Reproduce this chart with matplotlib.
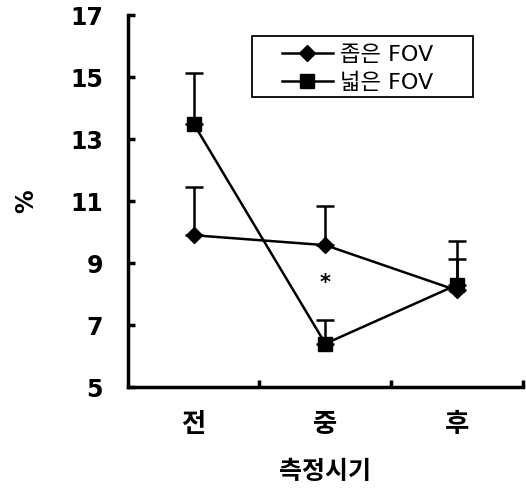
import matplotlib
matplotlib.use("Agg")
import matplotlib.pyplot as plt
from matplotlib.patches import Rectangle

categories = ["전", "중", "후"]
narrow = [9.9, 9.58, 8.12]
narrow_err = [1.55, 1.27, 1.02]
wide = [13.5, 6.4, 8.3]
wide_err = [1.63, 0.77, 1.43]
yticks = [5, 7, 9, 11, 13, 15, 17]

fam = ["DejaVu Sans", "Noto Sans CJK KR"]
plt.rcParams['font.family'] = fam

fig = plt.figure(figsize=(5.26, 4.9), dpi=100)
ax = fig.add_axes([0.243, 0.210, 0.751, 0.759])
x = list(range(len(categories)))

ax.errorbar(x, narrow, yerr=[[0]*3, narrow_err], fmt='none', ecolor='black',
            capsize=6.5, capthick=1.8, elinewidth=1.8)
ax.errorbar(x, wide, yerr=[[0]*3, wide_err], fmt='none', ecolor='black',
            capsize=6.5, capthick=1.8, elinewidth=1.8)
ax.plot(x, narrow, color='black', lw=1.8, marker='D', markersize=8, label='좁은 FOV')
ax.plot(x, wide, color='black', lw=1.8, marker='s', markersize=10.5, label='넓은 FOV')
ax.text(1, 8.35, '*', ha='center', va='center', fontsize=15, fontweight='bold')

ax.set_xlim(-0.5, 2.5)
ax.set_ylim(5, 17)
ax.set_yticks(yticks)
ax.set_xticks([0.5, 1.5, 2.5])
ax.set_xticklabels([])
ax.set_xticks(x, minor=True)
ax.set_xticklabels(categories, minor=True, fontsize=19, fontweight='bold')
ax.tick_params(axis='x', which='minor', length=0, pad=18)
ax.tick_params(axis='x', which='major', direction='in', length=5, width=2.5)
ax.tick_params(axis='y', direction='in', length=5, width=2.5, labelsize=17, pad=18)
for lab in ax.get_yticklabels():
    lab.set_fontweight('bold')
for s in ['top', 'right']:
    ax.spines[s].set_visible(False)
for s in ['left', 'bottom']:
    ax.spines[s].set_linewidth(2.5)

ax.set_ylabel('%', fontsize=17, fontweight='bold', labelpad=23)
ax.set_xlabel('측정시기', fontsize=18, fontweight='bold', labelpad=16)

ax.add_patch(Rectangle((0.314, 0.780), 0.559, 0.164, transform=ax.transAxes,
                       fill=False, edgecolor='black', lw=1.3, zorder=5, clip_on=False))
leg = ax.legend(loc='upper left', bbox_to_anchor=(0.39, 0.92), borderaxespad=0,
                fontsize=16, frameon=False, handlelength=2.3, borderpad=0,
                labelspacing=0.35, handletextpad=0.3)

fig.savefig('out.png', dpi=100)
